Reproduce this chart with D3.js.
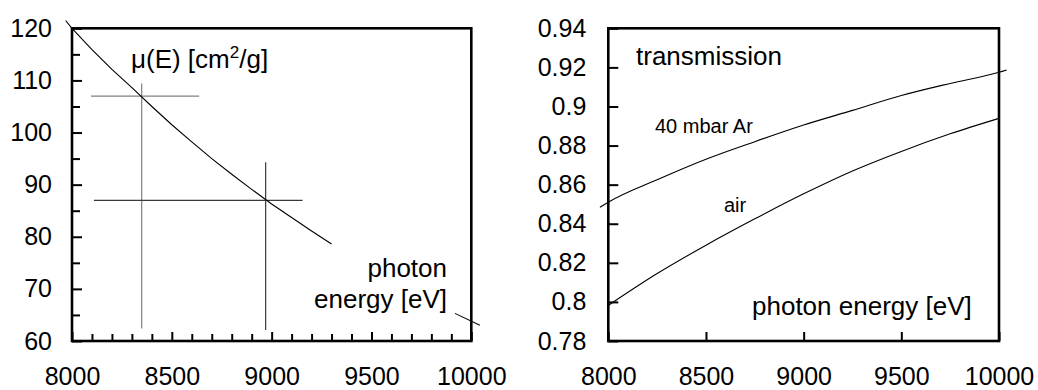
<!DOCTYPE html>
<html>
<head>
<meta charset="utf-8">
<script src="https://cdn.jsdelivr.net/npm/d3@7/dist/d3.min.js"></script>
<style>
  html, body { margin: 0; padding: 0; background: #fff; }
  svg { display: block; }
  text { font-family: "Liberation Sans", Arial, sans-serif; fill: #000; }
</style>
</head>
<body>
<svg id="chart" width="1038" height="390"></svg>
<script>
// ---------- data ----------
// left panel: mass attenuation coefficient mu(E) [cm^2/g]
const energyL = [7968, 8000, 8100, 8200, 8300, 8400, 8500, 8600, 8700, 8800, 8900, 9000, 9100, 9200, 9300];
const muL     = [121.5, 120, 115.9, 112.1, 108.6, 105.0, 101.5, 98.2, 95.0, 92.0, 89.1, 86.3, 83.7, 81.1, 78.6];
// crosshair markers
const crossE    = [8349, 8970];
const crossMu   = [107, 87];
const crossHLo  = [8095, 8110];
const crossHHi  = [8637, 9155];
const crossVLo  = [62.4, 62.1];
const crossVHi  = [109.4, 94.3];
// stray short segment at the lower right
const strayE  = [9918, 10043];
const strayMu = [65.3, 63.0];
// left axis ticks
const leftYTicks = [60, 70, 80, 90, 100, 110, 120];
const leftYMinor = [65, 75, 85, 95, 105, 115];
const xTicks = [8000, 8500, 9000, 9500, 10000];
const leftXMinor = d3.range(8100, 10000, 100).filter(v => v % 500 !== 0);

// right panel: transmission
const energyAr = [7957, 8000, 8250, 8500, 8750, 9000, 9250, 9500, 9750, 10000, 10039];
const transAr  = [0.8484, 0.851, 0.8625, 0.873, 0.882, 0.8905, 0.898, 0.9056, 0.9118, 0.9175, 0.9187];
const energyAir = [8000, 8250, 8500, 8750, 9000, 9250, 9500, 9750, 10000];
const transAir  = [0.7982, 0.8145, 0.829, 0.8425, 0.8553, 0.867, 0.877, 0.886, 0.8939];
const rightYTicks = [0.78, 0.80, 0.82, 0.84, 0.86, 0.88, 0.90, 0.92, 0.94];
const rightYLabels = ["0.78", "0.8", "0.82", "0.84", "0.86", "0.88", "0.9", "0.92", "0.94"];

// ---------- layout ----------
const svg = d3.select("#chart");
const TICK_FONT = 25;
const xL = d3.scaleLinear([8000, 10000], [72, 471.3]);
const yL = d3.scaleLinear([60, 120], [341, 28.3]);
const xR = d3.scaleLinear([8000, 10000], [608.3, 999]);
const yR = d3.scaleLinear([0.78, 0.94], [341, 28.3]);

function styleAxis(g, w) {
  g.select(".domain").remove();
  g.selectAll(".tick line").attr("stroke", "#000").attr("stroke-width", w);
  g.selectAll(".tick text").style("font-size", TICK_FONT + "px").attr("fill", "#000")
    .style("font-family", '"Liberation Sans", Arial, sans-serif');
}

// ---------- left panel ----------
const gL = svg.append("g");
// minor ticks
gL.append("g").attr("transform", `translate(${xL.range()[0]},0)`)
  .call(d3.axisLeft(yL).tickValues(leftYMinor).tickSize(-8).tickFormat(""))
  .call(g => styleAxis(g, 2));
gL.append("g").attr("transform", `translate(0,${yL.range()[0]})`)
  .call(d3.axisBottom(xL).tickValues(leftXMinor).tickSize(-7).tickFormat(""))
  .call(g => styleAxis(g, 2));
// major ticks with labels
gL.append("g").attr("transform", `translate(${xL.range()[0]},0)`)
  .call(d3.axisLeft(yL).tickValues(leftYTicks).tickSize(-10).tickPadding(20).tickFormat(d3.format("d")))
  .call(g => styleAxis(g, 2));
gL.append("g").attr("transform", `translate(0,${yL.range()[0]})`)
  .call(d3.axisBottom(xL).tickValues(xTicks).tickSize(-9).tickPadding(26).tickFormat(d3.format("d")))
  .call(g => styleAxis(g, 2));
// frame
gL.append("rect")
  .attr("x", xL.range()[0]).attr("y", yL.range()[1])
  .attr("width", xL.range()[1] - xL.range()[0]).attr("height", yL.range()[0] - yL.range()[1])
  .attr("fill", "none").attr("stroke", "#000").attr("stroke-width", 2.6);

// crosshairs
const crossColors = ["#808080", "#3a3a3a"];
crossE.forEach((e, i) => {
  gL.append("line")
    .attr("x1", xL(crossHLo[i])).attr("x2", xL(crossHHi[i]))
    .attr("y1", yL(crossMu[i])).attr("y2", yL(crossMu[i]))
    .attr("stroke", crossColors[i]).attr("stroke-width", 1.2);
  gL.append("line")
    .attr("x1", xL(e)).attr("x2", xL(e))
    .attr("y1", yL(crossVLo[i])).attr("y2", yL(crossVHi[i]))
    .attr("stroke", crossColors[i]).attr("stroke-width", 1.2);
});

const lineL = d3.line().x((d, i) => xL(d[0])).y(d => yL(d[1]));
gL.append("path").datum(energyL.map((e, i) => [e, muL[i]]))
  .attr("d", lineL).attr("fill", "none").attr("stroke", "#000").attr("stroke-width", 1.1);
gL.append("path").datum(strayE.map((e, i) => [e, strayMu[i]]))
  .attr("d", lineL).attr("fill", "none").attr("stroke", "#000").attr("stroke-width", 1.1);

// labels
const muText = gL.append("text").attr("x", 131).attr("y", 68).style("font-size", "26px");
muText.append("tspan").text("μ(E) [cm");
muText.append("tspan").attr("dy", -10).style("font-size", "17px").text("2");
muText.append("tspan").attr("dy", 10).text("/g]");
gL.append("text").attr("x", 447).attr("y", 277).attr("text-anchor", "end").style("font-size", "26px").text("photon");
gL.append("text").attr("x", 447).attr("y", 308).attr("text-anchor", "end").style("font-size", "26px").text("energy [eV]");

// ---------- right panel ----------
const gR = svg.append("g");
gR.append("g").attr("transform", `translate(${xR.range()[0]},0)`)
  .call(d3.axisLeft(yR).tickValues(rightYTicks).tickSize(-10).tickPadding(22)
    .tickFormat((d, i) => rightYLabels[i]))
  .call(g => styleAxis(g, 2));
gR.append("g").attr("transform", `translate(0,${yR.range()[0]})`)
  .call(d3.axisBottom(xR).tickValues(xTicks).tickSize(-9).tickPadding(26).tickFormat(d3.format("d")))
  .call(g => styleAxis(g, 2));
gR.append("rect")
  .attr("x", xR.range()[0]).attr("y", yR.range()[1])
  .attr("width", xR.range()[1] - xR.range()[0]).attr("height", yR.range()[0] - yR.range()[1])
  .attr("fill", "none").attr("stroke", "#000").attr("stroke-width", 2.6);

const lineR = d3.line().curve(d3.curveMonotoneX).x(d => xR(d[0])).y(d => yR(d[1]));
gR.append("path").datum(energyAr.map((e, i) => [e, transAr[i]]))
  .attr("d", lineR).attr("fill", "none").attr("stroke", "#000").attr("stroke-width", 1.1);
gR.append("path").datum(energyAir.map((e, i) => [e, transAir[i]]))
  .attr("d", lineR).attr("fill", "none").attr("stroke", "#000").attr("stroke-width", 1.1);

gR.append("text").attr("x", 636).attr("y", 65).style("font-size", "26px").text("transmission");
gR.append("text").attr("x", 655).attr("y", 133).style("font-size", "20px").text("40 mbar Ar");
gR.append("text").attr("x", 724).attr("y", 212).style("font-size", "20px").text("air");
gR.append("text").attr("x", 752).attr("y", 315).style("font-size", "26px").text("photon energy [eV]");
</script>
</body>
</html>
